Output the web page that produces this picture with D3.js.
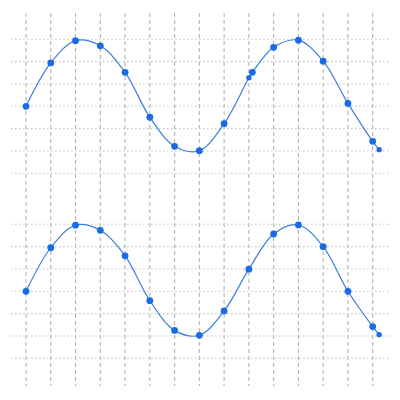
<!DOCTYPE html>
<html><head><meta charset="utf-8">
<script src="https://cdn.jsdelivr.net/npm/d3@7"></script>
<style>html,body{margin:0;padding:0;background:#fff;}</style>
</head><body>
<svg id="c" width="400" height="400"></svg>
<script>
// Data
const xTicks = d3.range(0, 15);           // vertical grid positions
const yTicks = [0, 1, 2, 3, 4, 5, 6];     // horizontal grid per panel
const topX = [0,1,2,3,4,5,6,7,8,9,9.14,10,11,12,13,14,14.26];
const topY = [3.0,4.94,5.94,5.71,4.52,2.51,1.21,1.01,2.22,4.28,4.52,5.64,5.96,5.02,3.13,1.43,1.06];
const topSmall = [9, 16];
const botX = [0,1,2,3,4,5,6,7,8,9,10,11,12,13,14,14.26];
const botY = [3.0,4.95,5.96,5.73,4.59,2.58,1.25,1.03,2.12,3.99,5.57,5.97,5.0,3.0,1.42,1.06];
const botSmall = [15];

const svg = d3.select("#c");
const x = d3.scaleLinear().domain([0, 14]).range([26, 372.7]);
const yTop = d3.scaleLinear().domain([0, 6]).range([173.3, 39.3]);
const yBot = d3.scaleLinear().domain([0, 6]).range([358.3, 224.3]);

// vertical dashed grid
svg.append("g").selectAll("line").data(xTicks).join("line")
  .attr("x1", d => x(d)).attr("x2", d => x(d))
  .attr("y1", 13).attr("y2", 386)
  .attr("stroke", "#b4b4b4").attr("stroke-width", 1.1)
  .attr("stroke-dasharray", "4,3");

// horizontal dotted grid
[yTop, yBot].forEach(ys => {
  svg.append("g").selectAll("line").data(yTicks).join("line")
    .attr("x1", 11).attr("x2", 389)
    .attr("y1", d => ys(d)).attr("y2", d => ys(d))
    .attr("stroke", "#c4c4c4").attr("stroke-width", 1.1)
    .attr("stroke-dasharray", "1.5,2.5");
});

function series(xs, vs, ys, small) {
  const pts = xs.map((d, i) => [d, vs[i]]);
  const line = d3.line().x(d => x(d[0])).y(d => ys(d[1])).curve(d3.curveCatmullRom.alpha(0.5));
  svg.append("path").attr("d", line(pts))
    .attr("fill", "none").attr("stroke", "#3a7fdc").attr("stroke-width", 1.2);
  svg.append("g").selectAll("circle").data(pts).join("circle")
    .attr("cx", d => x(d[0])).attr("cy", d => ys(d[1]))
    .attr("r", (d, i) => small.includes(i) ? 2.7 : 3.4)
    .attr("fill", "#1a6be6");
}
series(topX, topY, yTop, topSmall);
series(botX, botY, yBot, botSmall);
</script>
</body></html>
